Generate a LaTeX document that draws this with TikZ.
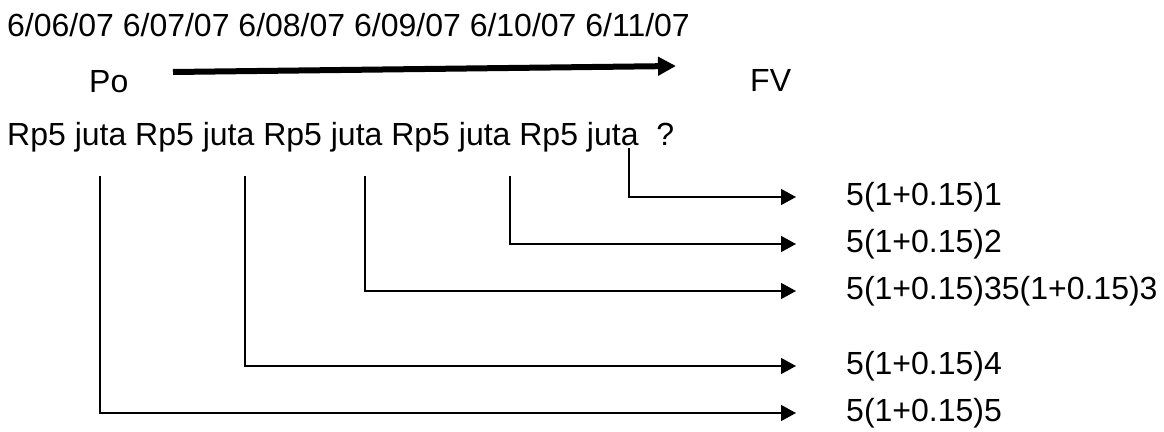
\documentclass[tikz,border=0pt]{standalone}
\usepackage{fontspec}
\setmainfont{Liberation Sans}
\usetikzlibrary{arrows.meta}
\begin{document}
\begin{tikzpicture}[x=1pt,y=-1pt,
  txt/.style={inner sep=0pt,font=\fontsize{32}{36}\selectfont},
  thin/.style={line width=1.5pt},
  flow/.style={thin,-{Triangle[length=15pt,width=16pt]},shorten >=50pt},
  bigarrow/.style={line width=6pt,-{Triangle[length=18pt,width=18pt]}}]
\useasboundingbox (0,0) rectangle (1164,431);
\node[txt,anchor=base west] (dates) at (7,36) {6/06/07 6/07/07 6/08/07 6/09/07 6/10/07 6/11/07};
\node[txt,anchor=base west] (po) at (89,92) {Po};
\node[txt,anchor=base west] (fv) at (750,91) {FV};
\coordinate (as) at (173,72);
\coordinate (ae) at (676,66);
\draw[bigarrow] (as) -- (ae);
\node[txt,anchor=base west] (rp) at (7,145) {Rp5 juta Rp5 juta Rp5 juta Rp5 juta Rp5 juta\ \ ?};
\coordinate (p1) at (100,176);
\coordinate (p2) at (245,176);
\coordinate (p3) at (365,176);
\coordinate (p4) at (510,176);
\coordinate (p5) at (629,148);
\node[txt,anchor=west] (f1) at (846,197) {5(1+0.15)1};
\node[txt,anchor=west] (f2) at (846,244) {5(1+0.15)2};
\node[txt,anchor=west] (f3) at (846,291) {5(1+0.15)35(1+0.15)3};
\node[txt,anchor=west] (f4) at (846,366) {5(1+0.15)4};
\node[txt,anchor=west] (f5) at (846,413) {5(1+0.15)5};
\draw[flow] (p5) |- (f1.west);
\draw[flow] (p4) |- (f2.west);
\draw[flow] (p3) |- (f3.west);
\draw[flow] (p2) |- (f4.west);
\draw[flow] (p1) |- (f5.west);
\end{tikzpicture}
\end{document}
